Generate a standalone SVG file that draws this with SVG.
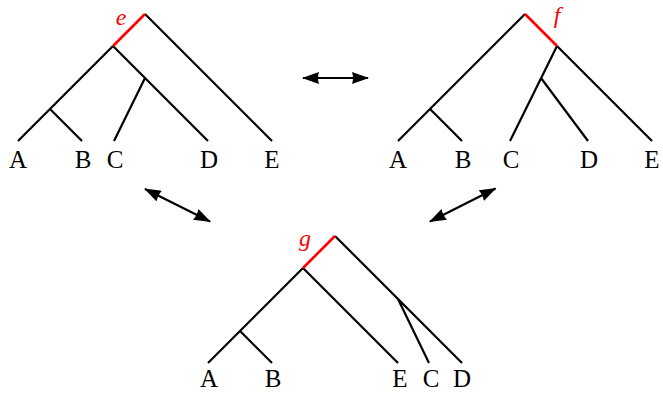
<svg xmlns="http://www.w3.org/2000/svg" width="663" height="394" viewBox="0 0 663 394">
<style>
.e{stroke:#000;stroke-width:2.2;fill:none;stroke-linecap:butt}
.r{stroke:#f00;stroke-width:2.6;fill:none}
.t{font-family:"Liberation Serif","DejaVu Serif",serif;font-size:25px;text-anchor:middle;fill:#000}
.l{font-family:"Liberation Serif","DejaVu Serif",serif;font-size:24px;font-style:italic;text-anchor:middle;fill:#f00}
.a{stroke:#000;stroke-width:2.2;fill:none;marker-start:url(#ah);marker-end:url(#ah)}
</style>
<defs>
<marker id="ah" viewBox="0 0 17 12" refX="16" refY="6" markerWidth="17" markerHeight="12" markerUnits="userSpaceOnUse" orient="auto-start-reverse">
<path d="M0,0 L17,6 L0,12 Q2,6 0,0 z" fill="#000"/>
</marker>
</defs>
<g id="tree-e">
<path class="e" d="M145,14 L272,141 M113,46 L18,141 M50,109 L82,141 M113,46 L208,141 M145,78 L114,141"/>
<path class="r" d="M145,14 L113,46"/>
<text class="l" x="121" y="25">e</text>
<text class="t" x="18" y="168">A</text>
<text class="t" x="83" y="168">B</text>
<text class="t" x="115" y="168">C</text>
<text class="t" x="209" y="168">D</text>
<text class="t" x="272" y="168">E</text>
</g>
<g id="tree-f">
<path class="e" d="M525,14 L398,141 M430,109 L462,141 M557,46 L652,141 M557,46 L510,141 M541,78 L588,141"/>
<path class="r" d="M525,14 L557,46"/>
<text class="l" x="557" y="23">f</text>
<text class="t" x="398" y="168">A</text>
<text class="t" x="463" y="168">B</text>
<text class="t" x="511" y="168">C</text>
<text class="t" x="589" y="168">D</text>
<text class="t" x="652" y="168">E</text>
</g>
<g id="tree-g">
<path class="e" d="M335,236 L462,363 M303,268 L208,363 M240,331 L272,363 M303,268 L398,363 M398,299 L429,363"/>
<path class="r" d="M335,236 L303,268"/>
<text class="l" x="305" y="246">g</text>
<text class="t" x="209" y="387">A</text>
<text class="t" x="273" y="387">B</text>
<text class="t" x="400" y="387">E</text>
<text class="t" x="431" y="387">C</text>
<text class="t" x="462" y="387">D</text>
</g>
<g id="connectors">
<path class="a" d="M303,78 L368,78"/>
<path class="a" d="M145,189 L210,221.5"/>
<path class="a" d="M495.5,188.5 L430,221.5"/>
</g>
</svg>
